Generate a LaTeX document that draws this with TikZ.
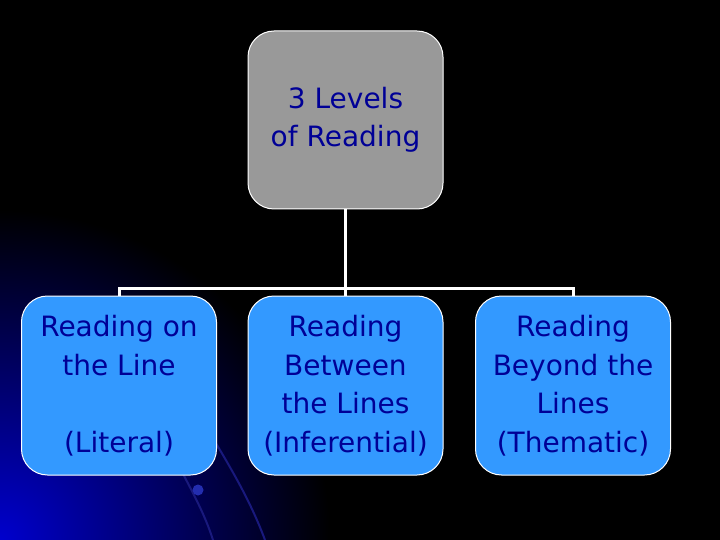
\documentclass[tikz,border=0pt]{standalone}
\usepackage{fontspec}
\setmainfont{DejaVu Sans}
\definecolor{boxgray}{RGB}{153,153,153}
\definecolor{boxblue}{RGB}{51,153,255}
\definecolor{txtblue}{RGB}{0,0,150}
\definecolor{cornerblue}{RGB}{0,0,205}
\definecolor{arcblue}{RGB}{25,25,125}
\definecolor{dotblue}{RGB}{35,45,175}
\tikzset{
  levelbox/.style={draw=white, line width=1pt, rounded corners=26pt,
    minimum width=195pt, minimum height=179pt, inner sep=0pt,
    text=txtblue, align=center, font=\fontsize{28}{38.5}\selectfont},
  topbox/.style={levelbox, fill=boxgray, minimum height=178pt},
  childbox/.style={levelbox, fill=boxblue},
  link/.style={draw=white, line width=3pt}
}
\begin{document}
\begin{tikzpicture}[x=1pt,y=-1pt]
\useasboundingbox (0,0) rectangle (720,540);
% background
\fill[black] (0,0) rectangle (720,540);
\begin{scope}
  \clip (0,0) rectangle (720,540);
  \shade[inner color=cornerblue, outer color=black] (0,540) circle (330);
\end{scope}
\draw[arcblue, line width=2pt] (181,470) .. controls (194,495) and (205,515) .. (213,540);
\draw[arcblue, line width=2pt] (214,440) .. controls (235,475) and (252,505) .. (265,540);
\fill[dotblue] (198,490) circle (5.5);
% nodes
\node[topbox] (top) at (345.5,120) {3 Levels\\ of Reading};
\node[childbox] (c1) at (119,385.5) {Reading on\\the Line\\ \\(Literal)};
\node[childbox] (c2) at (345.5,385.5) {Reading\\Between\\the Lines\\(Inferential)};
\node[childbox] (c3) at (573,385.5) {Reading\\Beyond the\\Lines\\(Thematic)};
% connectors
\coordinate (j) at (345.5,288);
\draw[link] (top.south) -- (c2.north);
\draw[link] (c1.north) -- (c1.north |- j) -- (c3.north |- j) -- (c3.north);
\end{tikzpicture}
\end{document}
